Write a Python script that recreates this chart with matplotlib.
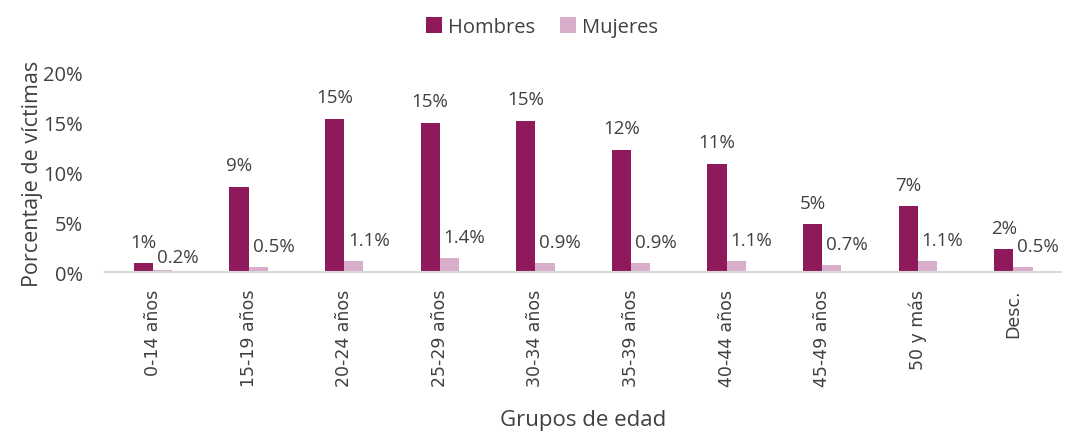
import matplotlib.pyplot as plt
import numpy as np

grupos = ["0-14 años", "15-19 años", "20-24 años", "25-29 años", "30-34 años",
          "35-39 años", "40-44 años", "45-49 años", "50 y más", "Desc."]
hombres = [0.9, 8.6, 15.4, 15.0, 15.2, 12.3, 10.9, 4.8, 6.6, 2.3]
mujeres = [0.2, 0.5, 1.1, 1.4, 0.9, 0.9, 1.1, 0.7, 1.1, 0.5]
etiq_h = ["1%", "9%", "15%", "15%", "15%", "12%", "11%", "5%", "7%", "2%"]
etiq_m = ["0.2%", "0.5%", "1.1%", "1.4%", "0.9%", "0.9%", "1.1%", "0.7%", "1.1%", "0.5%"]

c_h = "#8E1A5C"
c_m = "#D9AECB"
txt = "#404040"

plt.rcParams["font.family"] = ["Open Sans", "DejaVu Sans"]

fig = plt.figure(figsize=(10.84, 4.35), dpi=100)
ax = fig.add_axes([0.097, 0.372, 0.882, 0.458])

x = np.arange(len(grupos))
w = 0.2
bh = ax.bar(x - w / 2, hombres, w, color=c_h, label="Hombres")
bm = ax.bar(x + w / 2, mujeres, w, color=c_m, label="Mujeres")

for b, t in zip(bh, etiq_h):
    ax.annotate(t, (b.get_x() + b.get_width() / 2, b.get_height()),
                xytext=(0, 9), textcoords="offset points",
                ha="center", va="bottom", fontsize=13.5, color=txt)
for i, (b, t) in enumerate(zip(bm, etiq_m)):
    dy = 3 if i == 0 else 9
    ax.annotate(t, (b.get_x() + b.get_width() / 2, b.get_height()),
                xytext=(11, dy), textcoords="offset points",
                ha="center", va="bottom", fontsize=13.5, color=txt)

ax.set_xlim(-0.5, len(grupos) - 0.5)
ax.set_ylim(0, 20)
ax.set_yticks([0, 5, 10, 15, 20])
ax.set_yticklabels([f"{v}%" for v in [0, 5, 10, 15, 20]], fontsize=14.5, color=txt)
ax.set_xticks(x)
ax.set_xticklabels(grupos, rotation=90, fontsize=12.5, color=txt, family="DejaVu Sans")
ax.tick_params(length=0)
ax.tick_params(axis="x", pad=12)
ax.tick_params(axis="y", pad=16)

for s in ["top", "right", "left"]:
    ax.spines[s].set_visible(False)
ax.spines["bottom"].set_color("#D9D9D9")
ax.spines["bottom"].set_linewidth(1.5)

ax.set_ylabel("Porcentaje de víctimas", fontsize=15.5, color=txt, labelpad=0)
ax.set_xlabel("Grupos de edad", fontsize=16, color=txt, labelpad=16)

fig.legend(loc="upper center", bbox_to_anchor=(0.5, 1.0), ncol=2, frameon=False,
           fontsize=14.5, handlelength=0.8, handleheight=0.8, handletextpad=0.3,
           columnspacing=1.2, labelcolor=txt)

fig.savefig("out.png", dpi=100)
